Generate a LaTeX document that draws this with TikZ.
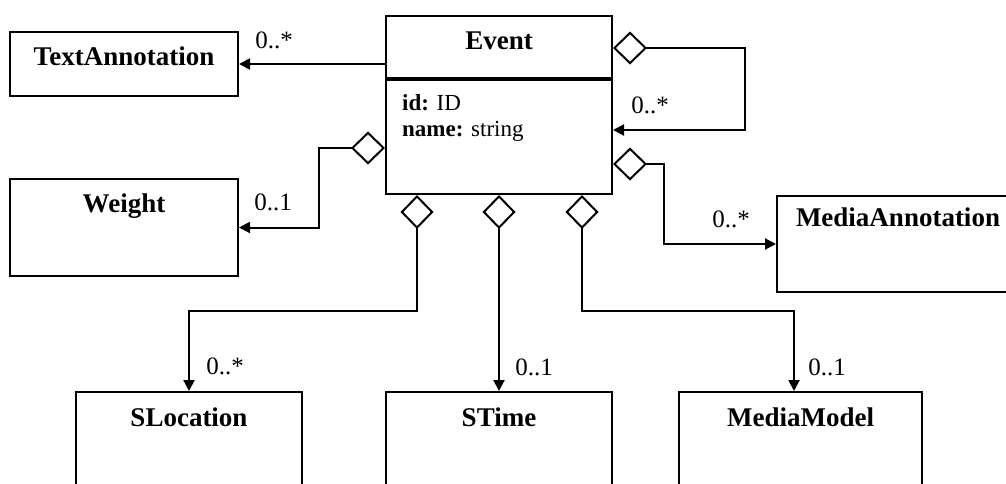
\documentclass[tikz,border=0pt]{standalone}
\usepackage{fontspec}
\setmainfont{Liberation Serif}
\usetikzlibrary{arrows.meta}

\tikzstyle{classbox} = [rectangle, draw, line width=2pt, inner sep=0pt, anchor=north west]
\tikzstyle{classname} = [font=\fontsize{27}{30}\selectfont\bfseries, inner sep=0pt, anchor=base]
\tikzstyle{attr} = [font=\fontsize{23}{26}\selectfont, inner sep=0pt, anchor=base west]
\tikzstyle{mult} = [font=\fontsize{25}{28}\selectfont, inner sep=0pt]
\tikzstyle{assoc} = [draw, line width=2pt, -{Triangle[length=11pt,width=11pt]}]
\tikzstyle{aggr} = [assoc, {Diamond[open,length=34pt,width=33pt]}-{Triangle[length=11pt,width=11pt]}]

\begin{document}
\begin{tikzpicture}[x=1pt, y=-1pt]

    \useasboundingbox (0,0) rectangle (1006,483);

    % EVENT
        \node [classbox, minimum width=226pt, minimum height=178pt]
            (event) at (385,15) {};
        \node [classname] (eventname) at ([yshift=-34pt]event.north) {Event};
        \draw [line width=3.5pt]
            ([yshift=-64pt]event.north west) -- ([yshift=-64pt]event.north east);
        \node [attr] (attrid) at (402,110) {\textbf{id:} ID};
        \node [attr] (attrname) at (402,136) {\textbf{name:} string};

    % LEFT SIDE
        \node [classbox, minimum width=228pt, minimum height=64pt]
            (textann) at (9,31) {};
        \node [classname] (textannname) at ([yshift=-34pt]textann.north) {TextAnnotation};
        \node [classbox, minimum width=228pt, minimum height=97pt]
            (weight) at (9,178) {};
        \node [classname] (weightname) at ([yshift=-34pt]weight.north) {Weight};

    % RIGHT SIDE
        \node [classbox, minimum width=242pt, minimum height=96pt]
            (mediaann) at (776,195) {};
        \node [classname] (mediaannname) at ([yshift=-31pt]mediaann.north) {MediaAnnotation};

    % BOTTOM ROW
        \node [classbox, minimum width=226pt, minimum height=100pt]
            (sloc) at (75,391) {};
        \node [classname] (slocname) at ([yshift=-35pt]sloc.north) {SLocation};
        \node [classbox, minimum width=226pt, minimum height=100pt]
            (stime) at (385,391) {};
        \node [classname] (stimename) at ([yshift=-35pt]stime.north) {STime};
        \node [classbox, minimum width=243pt, minimum height=100pt]
            (mmodel) at (678,391) {};
        \node [classname] (mmodelname) at ([yshift=-35pt]mmodel.north) {MediaModel};

    % LINE event -> textann
        \path[assoc]
            (event.west |- textann.east) -- (textann.east);
        \node [mult] (multtext) at (274,40) {0..*};
    % LINE event -> weight
        \path[aggr]
            ([yshift=47pt]event.south west) -- ++(-66,0)
            |- (weight.east);
        \node [mult] (multweight) at (273,202) {0..1};
    % LINE event -> event
        \path[aggr]
            ([yshift=-33pt]event.north east) -- ++(132,0)
            |- ([yshift=-25pt]event.east);
        \node [mult] (multself) at (650,105) {0..*};
    % LINE event -> mediaann
        \path[aggr]
            ([yshift=31pt]event.south east) -- ++(51,0)
            |- (mediaann.west);
        \node [mult] (multmediaann) at (731,219) {0..*};
    % LINE event -> sloc
        \path[aggr]
            ([xshift=32pt]event.south west) -- ++(0,116)
            -| (sloc.north);
        \node [mult] (multsloc) at (225,366) {0..*};
    % LINE event -> stime
        \path[aggr]
            (event.south) -- (stime.north);
        \node [mult] (multstime) at (534,367) {0..1};
    % LINE event -> mmodel
        \path[aggr]
            ([xshift=-31pt]event.south east) -- ++(0,116)
            -| ([xshift=-6.5pt]mmodel.north);
        \node [mult] (multmmodel) at (827,367) {0..1};

\end{tikzpicture}
\end{document}
